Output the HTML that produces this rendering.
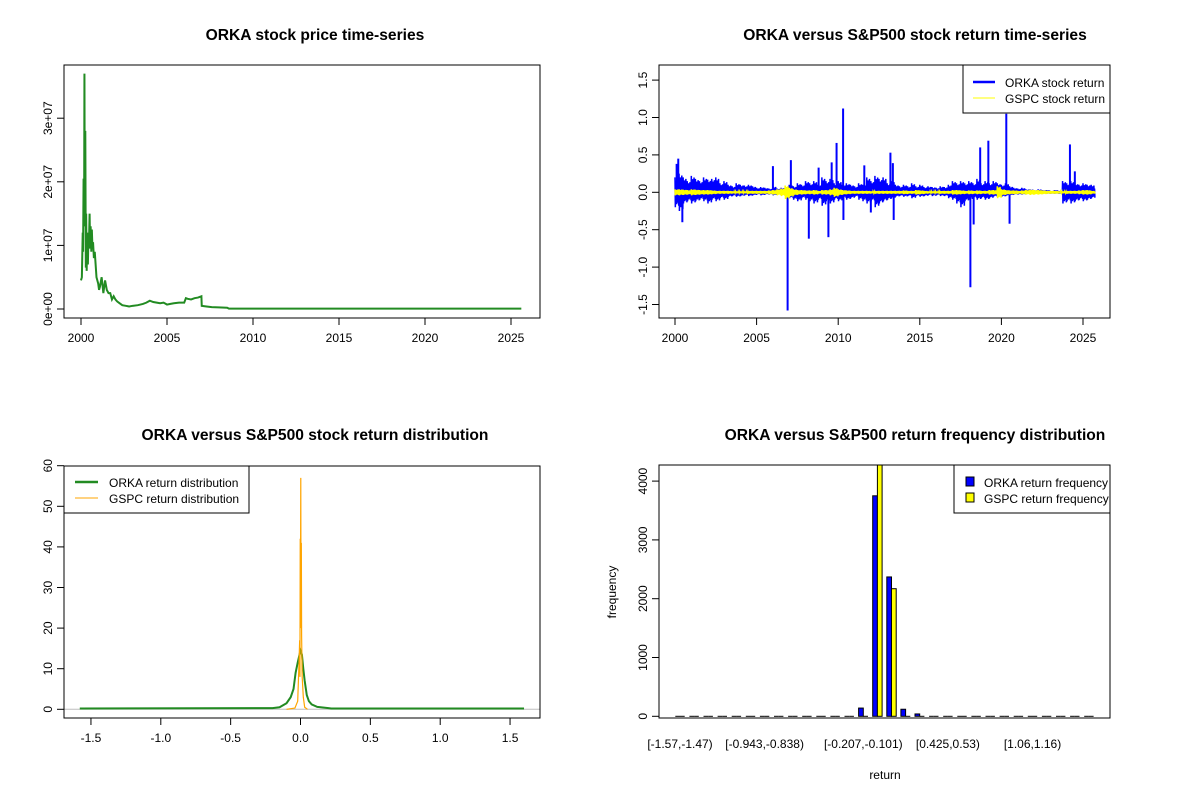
<!DOCTYPE html>
<html><head><meta charset="utf-8"><style>
body{margin:0;background:#fff}
svg{display:block;font-family:"Liberation Sans",Arial,sans-serif}
.t{font-weight:bold;font-size:15.6px;text-anchor:middle}
.tk{font-size:12px}
</style></head><body>
<svg id="c" width="1200" height="800" viewBox="0 0 1200 800">
<rect width="1200" height="800" fill="#fff"/>
</svg>
<script>
// ---- Panel 1 data: ORKA price (years, millions)
const priceYears=[2000.0,2000.05,2000.1,2000.12,2000.15,2000.18,2000.2,2000.22,2000.25,2000.28,2000.3,2000.33,2000.36,2000.4,2000.43,2000.46,2000.5,2000.53,2000.56,2000.6,2000.63,2000.66,2000.7,2000.75,2000.8,2000.85,2000.9,2000.95,2001.0,2001.05,2001.1,2001.2,2001.3,2001.4,2001.5,2001.6,2001.7,2001.8,2001.9,2002.0,2002.1,2002.2,2002.3,2002.4,2002.6,2002.8,2003.0,2003.3,2003.6,2003.8,2004.0,2004.2,2004.4,2004.6,2004.8,2005.0,2005.2,2005.4,2005.7,2006.0,2006.1,2006.2,2006.4,2006.6,2006.8,2007.0,2007.02,2007.3,2007.6,2008.0,2008.5,2008.6,2025.6];
const priceVals=[4.5,5,12,9,20.5,13,37,14,28,6.5,15,6,12,7,11,10,15,9.5,13,9,12.5,10,10.5,8,9,7,5,4.5,4,3,3.5,5,2.5,4.5,3,2.5,2.5,1.5,2,1.5,1.2,1,0.8,0.6,0.5,0.4,0.5,0.6,0.8,1,1.3,1.1,1.0,0.9,1.0,0.7,0.8,0.9,1.0,1.0,1.7,1.6,1.5,1.7,1.8,2.0,0.5,0.4,0.3,0.25,0.2,0.05,0.05];
const priceTicks=[0,10,20,30];const priceTickLabels=["0e+00","1e+07","2e+07","3e+07"];
const yearTicks=[2000,2005,2010,2015,2020,2025];
// ---- Panel 2 data: returns, quarterly envelope 2000..2025.5
const orkaHigh=[0.2,0.25,0.2,0.15,0.22,0.18,0.15,0.2,0.17,0.18,0.2,0.12,0.15,0.1,0.08,0.12,0.1,0.09,0.1,0.08,0.06,0.07,0.06,0.05,0.08,0.05,0.06,0.05,0.1,0.08,0.12,0.1,0.15,0.12,0.15,0.1,0.2,0.15,0.18,0.12,0.15,0.1,0.12,0.1,0.08,0.12,0.1,0.2,0.15,0.22,0.18,0.2,0.12,0.15,0.1,0.08,0.1,0.08,0.12,0.08,0.1,0.07,0.08,0.07,0.06,0.08,0.07,0.1,0.15,0.12,0.15,0.12,0.15,0.12,0.18,0.12,0.15,0.12,0.15,0.12,0.1,0.12,0.08,0.06,0.05,0.06,0.04,0.04,0.03,0.04,0.03,0.03,0.02,0.03,0.02,0.15,0.12,0.15,0.12,0.1,0.12,0.1,0.1];
const orkaLow=[-0.2,-0.25,-0.15,-0.12,-0.15,-0.12,-0.1,-0.12,-0.15,-0.1,-0.12,-0.08,-0.1,-0.06,-0.05,-0.06,-0.05,-0.04,-0.05,-0.04,-0.03,-0.04,-0.03,-0.03,-0.04,-0.03,-0.04,-0.03,-0.08,-0.1,-0.12,-0.08,-0.1,-0.12,-0.15,-0.1,-0.18,-0.12,-0.15,-0.1,-0.12,-0.08,-0.1,-0.08,-0.06,-0.1,-0.12,-0.15,-0.12,-0.2,-0.15,-0.12,-0.1,-0.08,-0.06,-0.05,-0.06,-0.05,-0.08,-0.05,-0.06,-0.05,-0.04,-0.05,-0.04,-0.05,-0.05,-0.08,-0.1,-0.15,-0.2,-0.12,-0.1,-0.08,-0.1,-0.08,-0.1,-0.08,-0.06,-0.05,-0.06,-0.05,-0.04,-0.03,-0.03,-0.03,-0.02,-0.02,-0.02,-0.02,-0.02,-0.02,-0.02,-0.02,-0.02,-0.15,-0.12,-0.15,-0.12,-0.1,-0.12,-0.1,-0.08];
const spikeYears=[2000.2,2000.45,2000.1,2006.0,2006.9,2007.1,2008.2,2008.8,2009.4,2009.6,2009.9,2010.3,2010.32,2011.6,2012.0,2013.2,2013.4,2013.35,2018.1,2018.3,2018.7,2019.2,2020.3,2020.5,2024.2,2024.5];
const spikeVals=[0.45,-0.4,0.38,0.35,-1.58,0.43,-0.62,0.33,-0.6,0.4,0.66,1.12,-0.37,0.36,-0.27,0.53,-0.37,0.39,-1.27,-0.43,0.6,0.69,1.05,-0.42,0.64,0.28];
const gspcHigh=[0.04,0.04,0.035,0.03,0.04,0.035,0.03,0.03,0.03,0.025,0.02,0.02,0.02,0.02,0.015,0.015,0.015,0.015,0.02,0.02,0.02,0.02,0.02,0.025,0.03,0.04,0.05,0.09,0.06,0.04,0.03,0.03,0.025,0.025,0.03,0.02,0.03,0.03,0.04,0.06,0.04,0.03,0.025,0.02,0.02,0.02,0.02,0.02,0.015,0.02,0.02,0.02,0.02,0.02,0.02,0.02,0.025,0.02,0.02,0.03,0.025,0.02,0.015,0.015,0.015,0.02,0.02,0.02,0.03,0.03,0.025,0.02,0.025,0.02,0.025,0.02,0.02,0.03,0.03,0.08,0.04,0.03,0.025,0.025,0.02,0.025,0.03,0.035,0.03,0.03,0.025,0.02,0.02,0.02,0.015,0.015,0.02,0.02,0.02,0.025,0.03,0.03,0.02];
const retTicks=[-1.5,-1,-0.5,0,0.5,1,1.5];const retTickLabels=["-1.5","-1.0","-0.5","0.0","0.5","1.0","1.5"];
// ---- Panel 3 data: densities
const orkaDensX=[-1.58,-0.2,-0.15,-0.1,-0.07,-0.05,-0.035,-0.02,-0.01,0,0.01,0.02,0.03,0.045,0.06,0.08,0.12,0.2,0.22,1.6];
const orkaDensY=[0.2,0.3,0.5,1.5,3,5,9,11.5,13,14.5,13.5,10,7,3.5,2,1.2,0.6,0.3,0.2,0.2];
const gspcDensX=[-0.1,-0.04,-0.02,-0.01,-0.006,-0.004,-0.002,0,0.002,0.004,0.006,0.008,0.012,0.02,0.03,0.05];
const gspcDensY=[0,0.3,2,12,17,8,42,30,57,20,41,18,8,3,0.5,0];
const densXTicks=[-1.5,-1,-0.5,0,0.5,1,1.5];const densXLabels=["-1.5","-1.0","-0.5","0.0","0.5","1.0","1.5"];
const densYTicks=[0,10,20,30,40,50,60];
// ---- Panel 4 data: frequencies for 30 bins
const orkaFreq=[2,0,0,0,0,0,1,0,0,0,2,3,15,140,3750,2370,120,40,15,3,1,0,1,0,0,1,0,0,0,1];
const gspcFreq=[0,0,0,0,0,0,0,0,0,0,0,0,1,5,4400,2170,4,0,0,0,0,0,0,0,0,0,0,0,0,0];
const binLabels=["[-1.57,-1.47)","[-0.943,-0.838)","[-0.207,-0.101)","[0.425,0.53)","[1.06,1.16)"];
const binLabelIdx=[0,6,13,19,25];
const freqTicks=[0,1000,2000,3000,4000];

const svg=document.getElementById('c');const NS='http://www.w3.org/2000/svg';
function el(tag,attrs,parent,text){const e=document.createElementNS(NS,tag);for(const k in attrs)e.setAttribute(k,attrs[k]);if(text!==undefined)e.textContent=text;(parent||svg).appendChild(e);return e;}
function grp(name){const g=el('g',{},svg);return g;}
function box(g,x0,y0,x1,y1){const r=el('rect',{x:x0,y:y0,width:x1-x0,height:y1-y0,fill:'none',stroke:'#000','stroke-width':1},g);}
function xAxis(g,ticks,labels,sx,yb){const a=el('g',{},g);
 el('line',{x1:sx(ticks[0]),x2:sx(ticks[ticks.length-1]),y1:yb,y2:yb,stroke:'#000'},a);
 ticks.forEach((t,i)=>{el('line',{x1:sx(t),x2:sx(t),y1:yb,y2:yb+7,stroke:'#000'},a);const tx=el('text',{x:sx(t),y:yb+24,'text-anchor':'middle',class:'tk'},a,labels[i]);});}
function yAxis(g,ticks,labels,sy,xl){const a=el('g',{},g);
 el('line',{x1:xl,x2:xl,y1:sy(ticks[0]),y2:sy(ticks[ticks.length-1]),stroke:'#000'},a);
 ticks.forEach((t,i)=>{el('line',{x1:xl,x2:xl-7,y1:sy(t),y2:sy(t),stroke:'#000'},a);const tx=el('text',{x:xl-12,y:sy(t),'text-anchor':'middle',class:'tk',transform:`rotate(-90 ${xl-12} ${sy(t)})`},a,labels[i]);});}
function title(g,x,y,s){const t=el('text',{x:x,y:y,class:'t'},g,s);}
function poly(g,xs,ys,sx,sy,col,w,name){const p=el('polyline',{points:xs.map((x,i)=>sx(x)+','+sy(ys[i])).join(' '),fill:'none',stroke:col,'stroke-width':w},g);}

// Panel 1
(function(){const g=grp('price-panel');
 const sx=y=>81+(y-2000)*17.2, sy=v=>309-v*6.36;
 title(g,315,40,'ORKA stock price time-series');
 const cp=el('clipPath',{id:'cp1'},g);el('rect',{x:64,y:65,width:476,height:253},cp);
 const d=el('g',{'clip-path':'url(#cp1)'},g);
 poly(d,priceYears,priceVals,sx,sy,'#228B22',2,'orka-price-line');
 xAxis(g,yearTicks,yearTicks.map(String),sx,318);
 yAxis(g,priceTicks,priceTickLabels,sy,64);
 box(g,64,65,540,318);})();

// Panel 2
(function(){const g=grp('return-panel');
 const sx=y=>675+(y-2000)*16.32, sy=v=>192.3-v*74.8;
 title(g,915,40,'ORKA versus S&P500 stock return time-series');
 const cp=el('clipPath',{id:'cp2'},g);el('rect',{x:659,y:65,width:451,height:253},cp);
 const d=el('g',{'clip-path':'url(#cp2)'},g);
 const fr=[1,-1,0.6,-0.5,0.8,-0.8,0.4,-0.7,0.9,-0.4,0.5,-0.9];
 let xs=[],ys=[];orkaHigh.forEach((h,i)=>{const y=2000+i*0.25;fr.forEach((f,j)=>{xs.push(y+j*0.25/fr.length);ys.push(f>0?h*f:-orkaLow[i]*f);});});
 spikeYears.forEach((y,i)=>{const l=el('line',{x1:sx(y),x2:sx(y),y1:sy(0),y2:sy(spikeVals[i]),stroke:'#0000FF','stroke-width':2},d);});
 poly(d,xs,ys,sx,sy,'#0000FF',1.5,'orka-return-line');
 let gx=[],gy=[];gspcHigh.forEach((h,i)=>{const y=2000+i*0.25;fr.forEach((f,j)=>{gx.push(y+j*0.25/fr.length);gy.push(h*f);});});
 poly(d,gx,gy,sx,sy,'#FFFF00',1.5,'gspc-return-line');
 xAxis(g,yearTicks,yearTicks.map(String),sx,318);
 yAxis(g,retTicks,retTickLabels,sy,659);
 box(g,659,65,1110,318);
 const lg=el('g',{},g);
 el('rect',{x:963,y:65,width:147,height:48,fill:'#fff',stroke:'#000'},lg);
 el('line',{x1:973,x2:995,y1:82,y2:82,stroke:'#0000FF','stroke-width':2.5},lg);
 el('line',{x1:973,x2:995,y1:98,y2:98,stroke:'#FFFF00','stroke-width':1},lg);
 const a=el('text',{x:1005,y:87,class:'tk'},lg,'ORKA stock return');
 const b=el('text',{x:1005,y:103,class:'tk'},lg,'GSPC stock return');})();

// Panel 3
(function(){const g=grp('density-panel');
 const sx=v=>300.5+v*139.7, sy=v=>709.3-v*4.06;
 title(g,315,440,'ORKA versus S&P500 stock return distribution');
 el('line',{x1:64,x2:540,y1:sy(0),y2:sy(0),stroke:'#bebebe'},g);
 poly(g,orkaDensX,orkaDensY,sx,sy,'#228B22',2,'orka-density-line');
 poly(g,gspcDensX,gspcDensY,sx,sy,'#FFA500',1.2,'gspc-density-line');
 xAxis(g,densXTicks,densXLabels,sx,718);
 yAxis(g,densYTicks,densYTicks.map(String),sy,64);
 box(g,64,466,540,718);
 const lg=el('g',{},g);
 el('rect',{x:64,y:466,width:185,height:47,fill:'#fff',stroke:'#000'},lg);
 el('line',{x1:75,x2:98,y1:482,y2:482,stroke:'#228B22','stroke-width':2.5},lg);
 el('line',{x1:75,x2:98,y1:498,y2:498,stroke:'#FFA500','stroke-width':1},lg);
 const a=el('text',{x:109,y:487,class:'tk'},lg,'ORKA return distribution');
 const b=el('text',{x:109,y:503,class:'tk'},lg,'GSPC return distribution');})();

// Panel 4
(function(){const g=grp('frequency-panel');
 const unit=4.7, x0=675.3, sy=v=>716.3-v*0.0588;
 const bx=i=>x0+i*3*unit;
 title(g,915,440,'ORKA versus S&P500 return frequency distribution');
 const cp=el('clipPath',{id:'cp4'},g);el('rect',{x:659,y:465,width:451,height:253},cp);
 const d=el('g',{'clip-path':'url(#cp4)'},g);
 function bar(x,v,col,name){
  if(sy(0)-sy(v)<1){const l=el('line',{x1:x,x2:x+unit,y1:sy(0),y2:sy(0),stroke:'#000','stroke-width':1},d);return;}
  const r=el('rect',{x:x,y:sy(v),width:unit,height:sy(0)-sy(v),fill:col,stroke:'#000','stroke-width':1},d);}
 orkaFreq.forEach((v,i)=>{bar(bx(i),v,'#0000FF','bar-orka');bar(bx(i)+unit,gspcFreq[i],'#FFFF00','bar-gspc');});
 yAxis(g,freqTicks,freqTicks.map(String),sy,659);
 binLabelIdx.forEach((k,i)=>{const t=el('text',{x:bx(k)+unit,y:748,'text-anchor':'middle',class:'tk'},g,binLabels[i]);});
 const xl=el('text',{x:885,y:779,'text-anchor':'middle',class:'tk'},g,'return');
 const yl=el('text',{x:616,y:592,'text-anchor':'middle',class:'tk',transform:'rotate(-90 616 592)'},g,'frequency');
 box(g,659,465,1110,718);
 const lg=el('g',{},g);
 el('rect',{x:954,y:465,width:156,height:48,fill:'#fff',stroke:'#000'},lg);
 el('rect',{x:966,y:477,width:8,height:9,fill:'#0000FF',stroke:'#000'},lg);
 el('rect',{x:966,y:493,width:8,height:9,fill:'#FFFF00',stroke:'#000'},lg);
 const a=el('text',{x:984,y:487,class:'tk'},lg,'ORKA return frequency');
 const b=el('text',{x:984,y:503,class:'tk'},lg,'GSPC return frequency');})();
</script>
</body></html>
